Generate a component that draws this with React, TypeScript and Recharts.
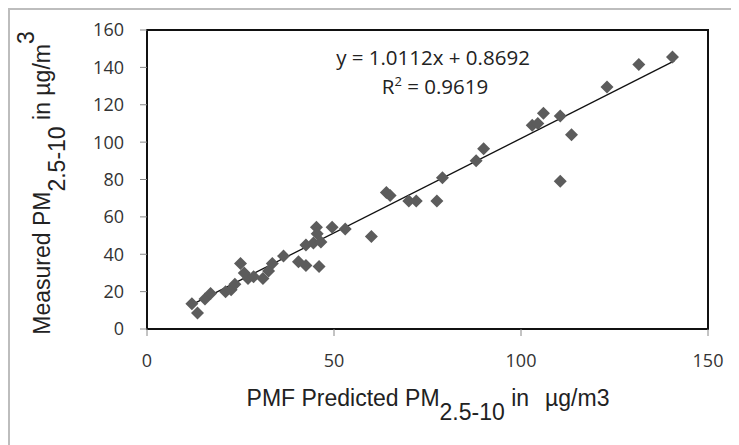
import React from 'react';
import { ScatterChart, Scatter, XAxis, YAxis, ReferenceLine, ReferenceArea, Label } from 'recharts';

const predicted = [12, 13.5, 15.5, 17, 21, 22.5, 23.5, 25, 26, 27, 28.5, 31, 32.5, 33.5, 36.5, 40.5, 42.5, 46, 42.5, 44.5, 45.3, 45.5, 46.5, 49.5, 53, 60, 64, 65, 70, 72, 77.5, 79, 88, 90, 103, 104.5, 106, 110.5, 113.5, 110.5, 123, 131.5, 140.5];
const measured = [13.5, 8.5, 16, 19, 20, 21, 24, 35, 30, 27, 28, 27, 31, 35, 39, 36, 34, 33.5, 45, 46, 54.5, 51, 46.5, 54.5, 53.5, 49.5, 73, 71.5, 68.5, 68.5, 68.5, 81, 90, 96.5, 109, 110, 115.5, 114, 104, 79, 129.5, 141.5, 145.5];
const xTicks = [0, 50, 100, 150];
const yTicks = [0, 20, 40, 60, 80, 100, 120, 140, 160];
const slope = 1.0112;
const intercept = 0.8692;
const trendRange = [12, 141];
const equationText = 'y = 1.0112x + 0.8692';
const r2Text = '0.9619';

const points = predicted.map((x, i) => ({ x, y: measured[i] }));
const trendSegment = trendRange.map((x) => ({ x, y: slope * x + intercept }));

const Diamond = (props: any) => {
  const { cx, cy } = props;
  const r = 6.5;
  return (
    <polygon
      points={`${cx},${cy - r} ${cx + r},${cy} ${cx},${cy + r} ${cx - r},${cy}`}
      fill="#5c5c5c"
    />
  );
};

const titleFont = '"Liberation Sans", Arial, sans-serif';
const tickFont = '"Open Sans", sans-serif';

const XTitle = () => (
  <text x={418} y={396} textAnchor="middle" fontFamily={titleFont} fontSize={23} fill="#222">
    <tspan>PMF Predicted PM</tspan>
    <tspan dy={14}>2.5-10</tspan>
    <tspan dy={-14}> in</tspan>
    <tspan dx={16}>µg/m3</tspan>
  </text>
);

const YTitle = () => (
  <text
    x={0}
    y={0}
    transform="translate(39.5,173) rotate(-90)"
    textAnchor="middle"
    fontFamily={titleFont}
    fontSize={23}
    fill="#222"
  >
    <tspan>Measured PM</tspan>
    <tspan dy={15}>2.5-10</tspan>
    <tspan dy={-15}> in µg/m</tspan>
    <tspan dy={-16}>3</tspan>
  </text>
);

export default function App() {
  return (
    <div
      style={{
        width: 731,
        height: 437,
        borderTop: '2px solid #bdbdbd',
        borderLeft: '2px solid #bdbdbd',
        boxSizing: 'border-box',
        background: '#fff',
      }}
    >
      <ScatterChart width={729} height={435} margin={{ top: 20, right: 31, left: 0, bottom: 0 }}>
        <XAxis
          type="number"
          dataKey="x"
          domain={[0, 150]}
          ticks={xTicks}
          interval={0}
          height={116}
          tickSize={7}
          tickMargin={18}
          axisLine={{ stroke: '#111', strokeWidth: 2 }}
          tickLine={{ stroke: '#888', strokeWidth: 1 }}
          tick={{ fontFamily: tickFont, fontSize: 18, fill: '#333' }}
        >
          <Label content={() => <XTitle />} />
        </XAxis>
        <YAxis
          type="number"
          dataKey="y"
          domain={[0, 160]}
          ticks={yTicks}
          interval={0}
          width={137}
          tickSize={7}
          tickMargin={16}
          axisLine={{ stroke: '#111', strokeWidth: 2 }}
          tickLine={{ stroke: '#888', strokeWidth: 1 }}
          tick={{ fontFamily: tickFont, fontSize: 18, fill: '#333' }}
        >
          <Label content={() => <YTitle />} />
        </YAxis>
        <ReferenceArea x1={0} x2={150} y1={0} y2={160} fill="none" stroke="#111" strokeWidth={2} />
        <Scatter data={points} shape={<Diamond />} isAnimationActive={false} />
        <ReferenceLine segment={trendSegment} stroke="#111" strokeWidth={1.3} />
        <text x={423} y={55} textAnchor="middle" fontFamily={tickFont} fontSize={20.5} fill="#222">
          {equationText}
        </text>
        <text x={425} y={84} textAnchor="middle" fontFamily={tickFont} fontSize={20.5} fill="#222">
          <tspan>R</tspan>
          <tspan dy={-8} fontSize={13}>2</tspan>
          <tspan dy={8}>{` = ${r2Text}`}</tspan>
        </text>
      </ScatterChart>
    </div>
  );
}
